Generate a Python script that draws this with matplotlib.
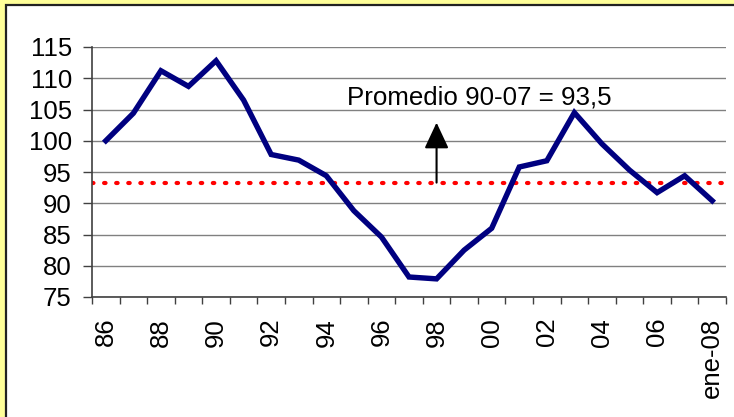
import numpy as np
import matplotlib
matplotlib.use("Agg")
import matplotlib.pyplot as plt
from matplotlib.patches import Rectangle

# =============================
# DATA
# =============================
years = ["86", "87", "88", "89", "90", "91", "92", "93", "94", "95", "96", "97",
         "98", "99", "00", "01", "02", "03", "04", "05", "06", "07", "ene-08"]
values = [100.0, 104.4, 111.2, 108.7, 112.8, 106.5, 97.8, 96.9, 94.4, 88.8,
          84.6, 78.2, 77.9, 82.5, 86.0, 95.8, 96.8, 104.5, 99.5, 95.3,
          91.7, 94.4, 90.4]
promedio = 93.3
promedio_label = "Promedio 90-07 = 93,5"
y_ticks = [75, 80, 85, 90, 95, 100, 105, 110, 115]

plt.rcParams['font.family'] = ['Liberation Sans', 'DejaVu Sans']

# =============================
# FIGURE
# =============================
fig = plt.figure(figsize=(7.34, 4.17), dpi=100, facecolor="#ffff99")
fig.patches.append(Rectangle((6 / 734, -0.05), 1.2, 1 - 5 / 417 + 0.05,
                             transform=fig.transFigure, facecolor="white",
                             edgecolor="#222222", linewidth=1.6, zorder=-10))

ax = fig.add_axes([92 / 734, 1 - 297 / 417, (726 - 92) / 734, 250 / 417])
ax.set_facecolor("none")

x = np.arange(len(years))

ax.set_ylim(75, 115)
ax.set_xlim(-0.5, len(years) - 0.5)
ax.set_yticks(y_ticks)
ax.yaxis.grid(True, color="#808080", linewidth=1.0)
ax.set_axisbelow(True)

# average line
ax.plot([-0.5, len(years) - 0.5], [promedio, promedio], color="red",
        linestyle=(0, (0.35, 2.55)), linewidth=3.0, dash_capstyle="round",
        zorder=2)

# series
ax.plot(x, values, color="#000080", linewidth=3.9, solid_joinstyle="miter",
        zorder=3)

# arrow and label
ax.annotate("", xy=(12, 102.9), xytext=(12, promedio),
            arrowprops=dict(arrowstyle="-|>,head_length=1.6,head_width=0.75",
                            color="black", linewidth=1.5, shrinkA=0, shrinkB=0))
ax.text(8.75, 107.0, promedio_label, fontsize=18.6, va="center", ha="left")

# ticks
ax.set_xticks(np.arange(-0.5, len(years), 1.0))
ax.set_xticklabels([])
ax.set_xticks(x[::2], minor=True)
ax.set_xticklabels(years[::2], minor=True, rotation=90, fontsize=18.5)
ax.tick_params(axis="x", which="major", length=5, width=1.0, color="#404040")
ax.tick_params(axis="x", which="minor", length=0, pad=15)
ax.tick_params(axis="y", length=6.5, width=1.0, color="#404040", labelsize=18.5,
               pad=8)

for side in ["top", "right"]:
    ax.spines[side].set_visible(False)
for side in ["left", "bottom"]:
    ax.spines[side].set_color("#404040")
    ax.spines[side].set_linewidth(1.2)

fig.savefig("out.png", dpi=100, facecolor=fig.get_facecolor())
